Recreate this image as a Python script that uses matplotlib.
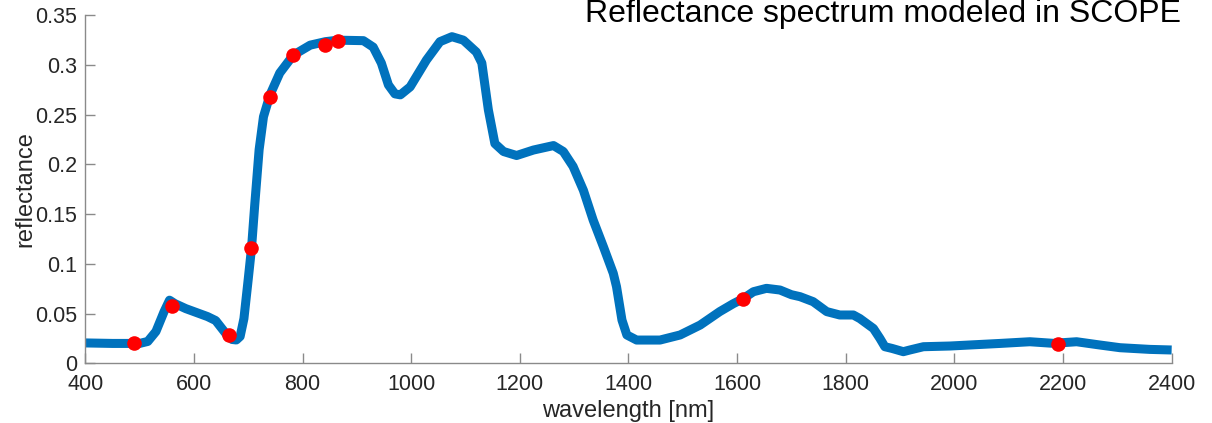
import matplotlib
matplotlib.use("Agg")
import matplotlib.pyplot as plt

plt.rcParams['font.family'] = ['Liberation Sans', 'DejaVu Sans']

wavelength = [400, 450, 500, 515, 530, 545, 555, 565, 585, 610, 625, 640, 650, 660,
              670, 678, 685, 692, 700, 706, 712, 720, 728, 740, 758, 783, 814, 842,
              865, 912, 930, 945, 958, 970, 980, 998, 1028, 1053, 1075, 1096, 1120,
              1130, 1142, 1154, 1170, 1194, 1225, 1262, 1280, 1298, 1317, 1335, 1354,
              1372, 1378, 1388, 1397, 1415, 1458, 1495, 1532, 1568, 1593, 1611, 1630,
              1654, 1679, 1700, 1716, 1740, 1765, 1789, 1814, 1826, 1851, 1863, 1872,
              1885, 1906, 1918, 1943, 1992, 2084, 2139, 2182, 2225, 2268, 2305, 2360,
              2400]
reflectance = [0.0205, 0.020, 0.020, 0.022, 0.032, 0.052, 0.0635, 0.060, 0.055, 0.050,
               0.047, 0.043, 0.036, 0.029, 0.024, 0.0235, 0.027, 0.045, 0.085, 0.116,
               0.160, 0.215, 0.248, 0.270, 0.292, 0.310, 0.320, 0.3235, 0.325, 0.3245,
               0.318, 0.302, 0.280, 0.271, 0.270, 0.278, 0.305, 0.3235, 0.3285, 0.325,
               0.313, 0.302, 0.255, 0.221, 0.213, 0.209, 0.2145, 0.219, 0.213, 0.198,
               0.174, 0.144, 0.117, 0.0905, 0.077, 0.0435, 0.0285, 0.0234, 0.0234,
               0.0285, 0.0385, 0.052, 0.060, 0.065, 0.072, 0.0754, 0.0737, 0.069,
               0.067, 0.062, 0.052, 0.0486, 0.0486, 0.045, 0.035, 0.025, 0.0167, 0.015,
               0.0117, 0.0134, 0.0167, 0.0174, 0.020, 0.0217, 0.0201, 0.0217, 0.0184,
               0.0157, 0.014, 0.0134]

band_wavelength = [490, 560, 665, 705, 740, 783, 842, 865, 1610, 2190]
band_reflectance = [0.0204, 0.0576, 0.0285, 0.116, 0.268, 0.310, 0.320, 0.324, 0.0647, 0.0194]

x_ticks = [400, 600, 800, 1000, 1200, 1400, 1600, 1800, 2000, 2200, 2400]
y_ticks = [0, 0.05, 0.1, 0.15, 0.2, 0.25, 0.3, 0.35]
y_ticklabels = ['0', '0.05', '0.1', '0.15', '0.2', '0.25', '0.3', '0.35']

fig = plt.figure(figsize=(12.12, 4.23), dpi=100)
ax = fig.add_axes([0.0704, 0.1411, 0.8963, 0.8227])

ax.plot(wavelength, reflectance, color='#0072BD', linewidth=6.5,
        solid_joinstyle='round', solid_capstyle='butt', zorder=2)
ax.plot(band_wavelength, band_reflectance, 'o', color='#FF0000', markersize=10.5,
        markeredgewidth=0, zorder=3)

ax.set_xlim(400, 2400)
ax.set_ylim(0, 0.35)
ax.set_xticks(x_ticks)
ax.set_yticks(y_ticks)
ax.set_yticklabels(y_ticklabels)

for s in ['top', 'right']:
    ax.spines[s].set_visible(False)
for s in ['left', 'bottom']:
    ax.spines[s].set_color('#8a8a8a')
    ax.spines[s].set_linewidth(1.0)

ax.tick_params(direction='in', length=7.5, width=1.0, color='#8a8a8a',
               labelsize=15.5, labelcolor='#262626')
ax.tick_params(axis='x', pad=8)
ax.tick_params(axis='y', pad=6)

ax.set_xlabel('wavelength [nm]', fontsize=17, color='#262626', labelpad=3)
ax.set_ylabel('reflectance', fontsize=17, color='#262626', labelpad=-1)

fig.text(0.9744, 0.948, 'Reflectance spectrum modeled in SCOPE', ha='right',
         va='baseline', fontsize=23, color='black')

fig.savefig('out.png', dpi=100, facecolor='white')
